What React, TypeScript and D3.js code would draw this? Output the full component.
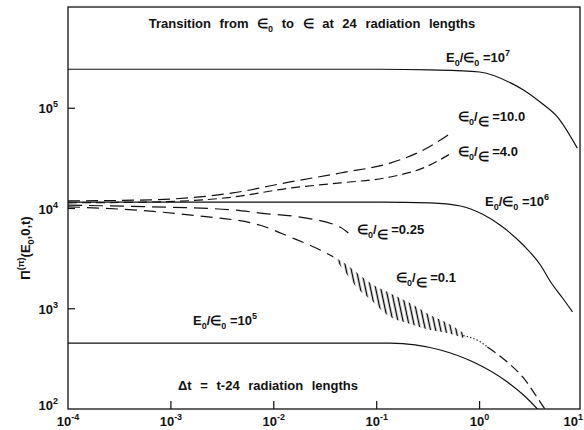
import React from "react";
import * as d3 from "d3";

type P = [number, number];

// ---- data ----
const X_EXPONENTS = [-4, -3, -2, -1, 0, 1];
const Y_EXPONENTS = [2, 3, 4, 5];

const curveE7: P[] = [[1e-4, 2.45e5], [0.108, 2.45e5], [0.33, 2.41e5], [1.0, 2.3e5], [2.0, 1.79e5], [2.67, 1.52e5], [3.9, 1.15e5], [5.7, 8.2e4], [8.9, 4.0e4]];
const curveE6: P[] = [[1e-4, 1.16e4], [0.108, 1.16e4], [0.33, 1.14e4], [0.65, 1.06e4], [1.06, 8.8e3], [1.59, 6.8e3], [2.67, 4.3e3], [3.9, 2.73e3], [4.9, 1.85e3], [6.4, 1.28e3], [8.0, 930]];
const curveE5: P[] = [[1e-4, 455], [0.135, 455], [0.416, 388], [0.87, 294], [1.86, 186], [2.67, 138], [3.9, 93]];

const ratio10: P[] = [[1e-4, 1.19e4], [6.3e-4, 1.22e4], [4.0e-3, 1.43e4], [0.0144, 1.84e4], [0.0443, 2.26e4], [0.135, 2.84e4], [0.284, 3.83e4], [0.416, 4.82e4], [0.543, 5.8e4]];
const ratio4: P[] = [[1e-4, 1.14e4], [6.3e-4, 1.16e4], [4.0e-3, 1.3e4], [0.0144, 1.6e4], [0.0443, 1.8e4], [0.135, 2.06e4], [0.284, 2.54e4], [0.556, 3.66e4]];
const ratio025: P[] = [[1e-4, 1.08e4], [6.3e-4, 1.04e4], [4.0e-3, 9.7e3], [7.4e-3, 9.0e3], [0.0181, 8.2e3], [0.0443, 6.5e3], [0.053, 5.7e3]];
const ratio01: P[] = [[1e-4, 1.04e4], [6.3e-4, 9.4e3], [1.92e-3, 8.4e3], [7.4e-3, 6.8e3], [0.0144, 5.2e3], [0.0282, 3.86e3], [0.0378, 3.3e3]];

const hatchX = [0.0378, 0.0518, 0.0647, 0.0926, 0.116, 0.227, 0.33, 0.486, 0.695];
const hatchTop = [3.3e3, 2.73e3, 2.27e3, 1.73e3, 1.54e3, 1.09e3, 866, 721, 573];
const hatchBottom = [3.3e3, 2.17e3, 1.61e3, 1.17e3, 929, 689, 614, 573, 511];

const ratio01Dotted: P[] = [[0.695, 540], [1.02, 466], [1.19, 415]];
const ratio01Tail: P[] = [[1.19, 415], [1.86, 294], [2.67, 204], [3.65, 129], [4.36, 98]];

const FONT = "'Liberation Sans', Arial, sans-serif";
const L = 68, T = 7, R = 580, B = 409;

export default function App() {
  const x = d3.scaleLog().domain([1e-4, 10]).range([68, 582.5]);
  const y = d3.scaleLog().domain([1e2, 1e6]).range([409, 8]);
  const line = d3.line<P>().x((d) => x(d[0])).y((d) => y(d[1])).curve(d3.curveMonotoneX);
  const hatchRows = hatchX.map((v, i) => ({ x: v, top: hatchTop[i], bot: hatchBottom[i] }));
  const area = d3
    .area<{ x: number; top: number; bot: number }>()
    .x((d) => x(d.x))
    .y0((d) => y(d.bot))
    .y1((d) => y(d.top))
    .curve(d3.curveMonotoneX);

  const txt = { fontFamily: FONT, fontSize: 13, fontWeight: 700, fill: "#111" } as const;

  const ratioLabel = (xx: number, yy: number, value: string) => (
    <text x={xx} y={yy} {...txt}>
      ∈<tspan dy={4} fontSize={9}>0</tspan>
      <tspan dy={-4}>/</tspan>
      <tspan dy={5}>∈</tspan>
      <tspan dy={-5}>{" =" + value}</tspan>
    </text>
  );
  const energyLabel = (xx: number, yy: number, exp: string) => (
    <text x={xx} y={yy} {...txt}>
      E<tspan dy={4} fontSize={9}>0</tspan>
      <tspan dy={-4}>/∈</tspan>
      <tspan dy={4} fontSize={9}>0</tspan>
      <tspan dy={-4}>{" =10"}</tspan>
      <tspan dy={-6} fontSize={9}>{exp}</tspan>
    </text>
  );

  return (
    <svg width={584} height={430} style={{ position: "absolute", left: 0, top: 0, background: "#fff" }}>
      <defs>
        <clipPath id="plot">
          <rect x={L} y={T} width={R - L} height={B - T} />
        </clipPath>
        <pattern id="hatch" width={5} height={6} patternUnits="userSpaceOnUse" patternTransform="rotate(-12)">
          <line x1={2.5} y1={-1} x2={2.5} y2={7} stroke="#000" strokeWidth={1.4} />
        </pattern>
      </defs>
      <rect x={0} y={0} width={584} height={430} fill="#fff" />

      {/* frame */}
      <rect x={L} y={T} width={R - L} height={B - T} fill="none" stroke="#111" strokeWidth={1.3} />

      {/* ticks */}
      {X_EXPONENTS.map((e) => {
        const px = x(Math.pow(10, e));
        const last = px > R;
        return (
          <g key={"x" + e}>
            {px > L + 1 && px < R - 1 && <line x1={px} x2={px} y1={B} y2={B - 8} stroke="#111" strokeWidth={1.2} />}
            <text x={last ? 583 : px} y={426} textAnchor={last ? "end" : "middle"} {...txt}>
              10<tspan dy={-6} fontSize={9}>{e === 0 ? "0" : e < 0 ? "-" + -e : String(e)}</tspan>
            </text>
          </g>
        );
      })}
      {Y_EXPONENTS.map((e) => {
        const py = y(Math.pow(10, e));
        return (
          <g key={"y" + e}>
            {e > 2 && <line x1={L} x2={L + 7} y1={py} y2={py} stroke="#111" strokeWidth={1.2} />}
            <text x={58} y={Math.min(py + 5, 410)} textAnchor="end" {...txt}>
              10<tspan dy={-6} fontSize={9}>{String(e)}</tspan>
            </text>
          </g>
        );
      })}

      {/* curves */}
      <g clipPath="url(#plot)" fill="none" stroke="#111" strokeWidth={1.2}>
        <path d={line(curveE7) || ""} />
        <path d={line(curveE6) || ""} />
        <path d={line(curveE5) || ""} />
        <path d={line(ratio10) || ""} strokeDasharray="12 6" />
        <path d={line(ratio4) || ""} strokeDasharray="9 5" />
        <path d={line(ratio025) || ""} strokeDasharray="14 7" />
        <path d={line(ratio01) || ""} strokeDasharray="12 7" />
        <path d={area(hatchRows) || ""} fill="url(#hatch)" stroke="none" />
        <path d={line(ratio01Dotted) || ""} strokeDasharray="1.3 2.2" />
        <path d={line(ratio01Tail) || ""} strokeDasharray="10 5" />
      </g>

      {/* title and notes */}
      <text x={312} y={28} textAnchor="middle" {...txt} wordSpacing={5}>
        Transition from ∈<tspan dy={4} fontSize={9}>0</tspan>
        <tspan dy={-4}> to ∈ at 24 radiation lengths</tspan>
      </text>
      <text x={268} y={390} textAnchor="middle" {...txt} wordSpacing={5}>
        Δt = t-24 radiation lengths
      </text>

      {energyLabel(446, 62, "7")}
      {energyLabel(485, 206, "6")}
      {energyLabel(193, 325, "5")}
      {ratioLabel(458, 121, "10.0")}
      {ratioLabel(458, 156, "4.0")}
      {ratioLabel(357, 234, "0.25")}
      {ratioLabel(396, 282, "0.1")}

      {/* y axis label */}
      <text transform="translate(30,248) rotate(-90)" textAnchor="middle" {...txt}>
        Π<tspan dy={-6} fontSize={9}>(π)</tspan>
        <tspan dy={6}>(E</tspan>
        <tspan dy={4} fontSize={9}>0</tspan>
        <tspan dy={-4}>,0,t)</tspan>
      </text>
    </svg>
  );
}
